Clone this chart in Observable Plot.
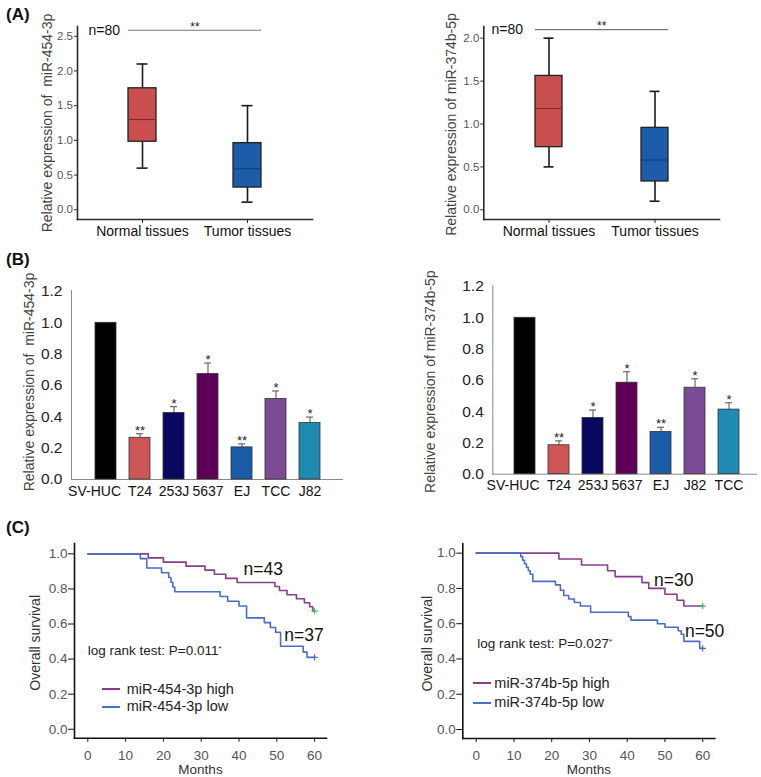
<!DOCTYPE html>
<html><head><meta charset="utf-8">
<script src="https://cdn.jsdelivr.net/npm/d3@7"></script>
<script src="https://cdn.jsdelivr.net/npm/@observablehq/plot@0.6"></script>
<style>
body{margin:0;background:#fff;}
#fig{position:relative;width:761px;height:777px;overflow:hidden;font-family:Arial,"Liberation Sans",Helvetica,sans-serif;background:#fff;}
.panel{position:absolute;}
.panel svg{overflow:visible;display:block;}
.plabel{position:absolute;font-weight:bold;font-size:17px;line-height:17px;color:#111;}
.boxp g[aria-label^="y-axis"] text{font-size:11.5px;fill:#555;}
.boxp g[aria-label^="x-axis"] text{font-size:14px;fill:#111;}
.barp g[aria-label^="y-axis"] text{font-size:15.5px;fill:#222;}
.kmp g[aria-label^="y-axis"] text{font-size:13.5px;fill:#555;}
.kmp g[aria-label^="x-axis"] text{font-size:13.5px;fill:#555;}
.boxp [aria-label="frame"], .boxp [aria-label="frame"] *, .boxp path.domain,
.kmp [aria-label="frame"], .kmp [aria-label="frame"] *, .kmp path.domain{stroke-width:1.6px;}
.leg{position:absolute;font-size:14.5px;color:#222;line-height:16px;white-space:nowrap;}
</style></head><body><div id="fig"></div>
<script>
// ---------------- DATA ----------------
const boxCategories = ["Normal tissues", "Tumor tissues"];
const boxColors = ["#c94f4f", "#1c5ca8"];
const boxMedianColors = ["#7a2a2a", "#103a6e"];
// miR-454-3p box plot (A left)
const b454Min = [0.60, 0.11];
const b454Q1 = [0.98, 0.32];
const b454Median = [1.30, 0.59];
const b454Q3 = [1.75, 0.96];
const b454Max = [2.10, 1.50];
const b454Ticks = [0, 0.5, 1.0, 1.5, 2.0, 2.5];
// miR-374b-5p box plot (A right)
const b374Min = [0.50, 0.10];
const b374Q1 = [0.73, 0.33];
const b374Median = [1.18, 0.58];
const b374Q3 = [1.56, 0.955];
const b374Max = [2.00, 1.38];
const b374Ticks = [0, 0.5, 1.0, 1.5, 2.0];
const sampleLabel = "n=80";
const sigLabel = "**";

// Cell line bars (B)
const barColors = ["#000000", "#cd5555", "#08085e", "#5f0058", "#1b5ca6", "#7b4c95", "#1f8bb2"];
const cells454 = ["SV-HUC", "T24", "253J", "5637", "EJ", "TCC", "J82"];
const expr454 = [1.0, 0.266, 0.425, 0.673, 0.205, 0.514, 0.36];
const err454 = [0, 0.026, 0.04, 0.07, 0.022, 0.051, 0.038];
const sig454 = ["", "**", "*", "*", "**", "*", "*"];
const cells374 = ["SV-HUC", "T24", "253J", "5637", "EJ", "J82", "TCC"];
const expr374 = [1.0, 0.185, 0.36, 0.585, 0.27, 0.553, 0.413];
const err374 = [0, 0.028, 0.05, 0.07, 0.03, 0.057, 0.044];
const sig374 = ["", "**", "*", "*", "**", "*", "*"];
const barTicks = [0, 0.2, 0.4, 0.6, 0.8, 1.0, 1.2];

// Kaplan-Meier (C)
const kmHighColor = "#8a3c8e";
const kmLowColor = "#4a6ec2";
const km454HighMonths = [0, 16, 20, 26, 31, 33.5, 36.5, 39.5, 49.5, 50.7, 52.7, 55.2, 57.3, 58.7, 59.5, 60];
const km454HighSurv = [1, 0.977, 0.953, 0.930, 0.907, 0.884, 0.860, 0.837, 0.814, 0.791, 0.767, 0.744, 0.721, 0.698, 0.674, 0.674];
const km454LowMonths = [0, 13.9, 15.6, 19.5, 21.4, 22, 22.5, 23, 35, 37, 40, 42, 46.7, 48.3, 49.7, 51, 57, 58, 60];
const km454LowSurv = [1, 0.973, 0.919, 0.892, 0.865, 0.838, 0.811, 0.784, 0.757, 0.730, 0.703, 0.635, 0.608, 0.58, 0.553, 0.473, 0.44, 0.41, 0.41];
const km374HighMonths = [0, 21.9, 27.9, 34.8, 36.8, 43.9, 45.7, 50, 53.2, 55, 60];
const km374HighSurv = [1, 0.967, 0.933, 0.9, 0.867, 0.833, 0.8, 0.767, 0.733, 0.7, 0.7];
const km374LowMonths = [0, 11.8, 12.3, 12.8, 13.3, 13.8, 14.3, 15, 21, 22.3, 23.2, 24.5, 26, 27.6, 30.3, 40.3, 41, 48, 50, 53.5, 54.3, 55, 59.2, 60];
const km374LowSurv = [1, 0.98, 0.96, 0.94, 0.92, 0.90, 0.88, 0.84, 0.82, 0.79, 0.76, 0.74, 0.72, 0.70, 0.665, 0.64, 0.62, 0.60, 0.58, 0.56, 0.54, 0.50, 0.46, 0.46];
const kmMonthTicks = [0, 10, 20, 30, 40, 50, 60];
const kmSurvTicks = [0, 0.2, 0.4, 0.6, 0.8, 1.0];
const km454Notes = ["n=43", "n=37"];
const km454NoteMonths = [46.4, 57.2];
const km454NoteSurv = [0.909, 0.534];
const km374Notes = ["n=30", "n=50"];
const km374NoteMonths = [52.3, 60.5];
const km374NoteSurv = [0.845, 0.558];
const logRank454 = "log rank test: P=0.011";
const logRank374 = "log rank test: P=0.027";

// ---------------- DRAWING ----------------
const FONT = 'Arial, "Liberation Sans", Helvetica, sans-serif';
const fig = document.getElementById("fig");
function place(cls, left, top, node) {
  const d = document.createElement("div");
  d.className = "panel " + cls;
  d.style.left = left + "px"; d.style.top = top + "px";
  d.appendChild(node); fig.appendChild(d); return d;
}
const fmt1 = d => d.toFixed(1);

function boxPanel(o) {
  const rows = boxCategories.map((c, i) => ({cat: c, min: o.mins[i], q1: o.q1[i], med: o.med[i], q3: o.q3[i], max: o.maxs[i], fill: boxColors[i], ms: boxMedianColors[i]}));
  const sig = [{a: boxCategories[0], b: boxCategories[1], y: o.sigY}];
  const W = "#1a1a1a";
  return Plot.plot({
    width: o.width, height: o.height,
    marginLeft: o.mL, marginRight: o.mR, marginTop: o.mT, marginBottom: o.mB,
    style: {fontFamily: FONT, background: "transparent", color: "#2a2a2a", overflow: "visible"},
    x: {type: "band", domain: boxCategories, paddingInner: o.pi, paddingOuter: o.po, tickSize: 4, tickPadding: 3, line: true, label: null},
    y: {domain: o.yDomain, ticks: o.ticks, tickFormat: fmt1, tickSize: 3, tickPadding: 1.5, line: true, label: null},
    color: {type: "identity"},
    marks: [
      Plot.ruleX(rows, {x: "cat", y1: "q3", y2: "max", stroke: W, strokeWidth: 1.6}),
      Plot.ruleX(rows, {x: "cat", y1: "min", y2: "q1", stroke: W, strokeWidth: 1.6}),
      Plot.tickY(rows, {x: "cat", y: "max", stroke: W, strokeWidth: 1.6, insetLeft: 8.5, insetRight: 8.5}),
      Plot.tickY(rows, {x: "cat", y: "min", stroke: W, strokeWidth: 1.6, insetLeft: 8.5, insetRight: 8.5}),
      Plot.barY(rows, {x: "cat", y1: "q1", y2: "q3", fill: "fill", stroke: "#222", strokeWidth: 1.3}),
      Plot.tickY(rows, {x: "cat", y: "med", stroke: "ms", strokeWidth: 1}),
      Plot.ruleY(sig, {x1: "a", x2: "b", y: "y", stroke: "#777", strokeWidth: 1.2}),
      Plot.text(sig, {y: "y", text: () => sigLabel, textAnchor: "middle", lineAnchor: "middle", dy: -3, fontSize: 12, fill: "#222"}),
      Plot.text(sig, {y: "y", text: () => sampleLabel, frameAnchor: "left", textAnchor: "start", lineAnchor: "middle", dx: o.nDx, fontSize: 14, fill: "#111"}),
      Plot.text([o.title], {text: d => d, frameAnchor: "left", textAnchor: "middle", lineAnchor: "middle", rotate: -90, dx: o.tDx, dy: o.tDy, fontSize: 14, fill: "#444"})
    ]
  });
}

function barPanel(o) {
  const rows = o.cells.map((c, i) => ({cell: c, v: o.expr[i], top: o.expr[i] + o.err[i], err: o.err[i], sig: o.sig[i], fill: barColors[i]}));
  const errRows = rows.filter(d => d.err > 0);
  return Plot.plot({
    width: o.width, height: o.height,
    marginLeft: o.mL, marginRight: o.mR, marginTop: o.mT, marginBottom: o.mB,
    style: {fontFamily: FONT, background: "transparent", color: "#8a8a8a", overflow: "visible"},
    x: {type: "band", domain: o.cells, paddingInner: 0.387, paddingOuter: o.po, align: o.align, tickSize: 0, tickFormat: () => "", line: true, label: null},
    y: {domain: o.yDomain, ticks: barTicks, tickFormat: fmt1, tickSize: 0, tickPadding: 9, line: true, label: null},
    color: {type: "identity"},
    marks: [
      Plot.ruleX(errRows, {x: "cell", y1: "v", y2: "top", stroke: "#6a6a6a", strokeWidth: 1.2}),
      Plot.tickY(errRows, {x: "cell", y: "top", stroke: "#6a6a6a", strokeWidth: 1.2, insetLeft: 7, insetRight: 7}),
      Plot.barY(rows, {x: "cell", y: "v", fill: "fill", stroke: "#333", strokeWidth: 0.8}),
      Plot.text(errRows, {x: "cell", y: "top", text: "sig", textAnchor: "middle", lineAnchor: "middle", dy: -3, fontSize: 13, fill: "#222"}),
      // category labels (first one is right-aligned so it doesn't collide)
      Plot.text(rows.slice(0, 1), {x: "cell", text: "cell", frameAnchor: "bottom", textAnchor: "end", lineAnchor: "top", dx: o.firstDx, dy: o.labDy, fontSize: 14, fill: "#111"}),
      Plot.text(rows.slice(1), {x: "cell", text: "cell", frameAnchor: "bottom", textAnchor: "middle", lineAnchor: "top", dy: o.labDy, fontSize: 14, fill: "#111"}),
      Plot.text([o.title], {text: d => d, frameAnchor: "left", textAnchor: "middle", lineAnchor: "middle", rotate: -90, dx: o.tDx, dy: o.tDy, fontSize: 14, fill: "#444"})
    ]
  });
}

function kmPanel(o) {
  const high = o.hT.map((t, i) => ({t, s: o.hS[i]}));
  const low = o.lT.map((t, i) => ({t, s: o.lS[i]}));
  const notes = o.notes.map((n, i) => ({n, t: o.nT[i], s: o.nS[i]}));
  const ends = [{t: o.hT[o.hT.length - 1], s: o.hS[o.hS.length - 1], c: "#3fbf5f"}, {t: o.lT[o.lT.length - 1], s: o.lS[o.lS.length - 1], c: kmLowColor}];
  return Plot.plot({
    width: o.width, height: o.height,
    marginLeft: o.mL, marginRight: o.mR, marginTop: o.mT, marginBottom: o.mB,
    style: {fontFamily: FONT, background: "transparent", color: "#111", overflow: "visible"},
    x: {domain: o.xDomain, ticks: kmMonthTicks, tickSize: 4, tickPadding: 8, line: true, label: null},
    y: {domain: o.yDomain, ticks: kmSurvTicks, tickFormat: fmt1, tickSize: 6, tickPadding: 1, line: true, label: null},
    color: {type: "identity"},
    marks: [
      Plot.line(high, {x: "t", y: "s", curve: "step-after", stroke: kmHighColor, strokeWidth: 1.6}),
      Plot.line(low, {x: "t", y: "s", curve: "step-after", stroke: kmLowColor, strokeWidth: 1.6}),
      Plot.dot(ends, {x: "t", y: "s", symbol: "plus", r: 2.2, stroke: "c", strokeWidth: 1.2}),
      Plot.text(notes, {x: "t", y: "s", text: "n", textAnchor: "middle", lineAnchor: "middle", fontSize: 17.5, fill: "#111"}),
      Plot.text([o.logRank], {x: () => o.lrT, y: () => o.lrS, text: d => d, textAnchor: "start", lineAnchor: "middle", fontSize: 13.5, fill: "#222"}),
      Plot.text(["Overall survival"], {text: d => d, frameAnchor: "left", textAnchor: "middle", lineAnchor: "middle", rotate: -90, dx: o.tDx, dy: o.tDy, fontSize: 14, fill: "#333"}),
      Plot.text(["Months"], {text: d => d, frameAnchor: "bottom", textAnchor: "middle", lineAnchor: "middle", dy: 31.5, fontSize: 13.5, fill: "#333"})
    ]
  });
}

// Panel A
place("boxp", 0, 0, boxPanel({
  mins: b454Min, q1: b454Q1, med: b454Median, q3: b454Q3, maxs: b454Max,
  yDomain: [-0.14, 2.64], ticks: b454Ticks, sigY: 2.586,
  width: 380, height: 250, mL: 77, mR: 68, mT: 26, mB: 31, pi: 0.734, po: 0.483,
  nDx: 11, title: "Relative expression of\u00a0 miR-454-3p", tDx: -30.3, tDy: 0
}));
place("boxp", 380, 0, boxPanel({
  mins: b374Min, q1: b374Q1, med: b374Median, q3: b374Q3, maxs: b374Max,
  yDomain: [-0.113, 2.136], ticks: b374Ticks, sigY: 2.10,
  width: 381, height: 250, mL: 103.3, mR: 42, mT: 26, mB: 31, pi: 0.746, po: 0.48,
  nDx: 7.7, title: "Relative expression of miR-374b-5p", tDx: -32.3, tDy: 1.5
}));
// Panel B
place("barp", 0, 250, barPanel({
  cells: cells454, expr: expr454, err: err454, sig: sig454,
  yDomain: [0, 1.206], width: 380, height: 250, mL: 71, mR: 38, mT: 40, mB: 21, po: 0.593, align: 0.525,
  firstDx: 15, labDy: 7,
  title: "Relative expression of\u00a0 miR-454-3p", tDx: -42, tDy: -3
}));
place("barp", 380, 250, barPanel({
  cells: cells374, expr: expr374, err: err374, sig: sig374,
  yDomain: [0, 1.2065], width: 381, height: 250, mL: 112.3, mR: 5, mT: 35, mB: 26.3, po: 0.4875, align: 0.566,
  firstDx: 14.5, labDy: 6.3,
  title: "Relative expression of miR-374b-5p", tDx: -62.3, tDy: 1.8
}));
// Panel C
place("kmp", 0, 520, kmPanel({
  hT: km454HighMonths, hS: km454HighSurv, lT: km454LowMonths, lS: km454LowSurv,
  notes: km454Notes, nT: km454NoteMonths, nS: km454NoteSurv,
  logRank: logRank454, lrT: 0, lrS: 0.449,
  xDomain: [-3.52, 63.15], yDomain: [-0.051, 1.059],
  width: 380, height: 257, mL: 74, mR: 54, mT: 23, mB: 39.3, tDx: -39, tDy: 2
}));
place("kmp", 380, 520, kmPanel({
  hT: km374HighMonths, hS: km374HighSurv, lT: km374LowMonths, lS: km374LowSurv,
  notes: km374Notes, nT: km374NoteMonths, nS: km374NoteSurv,
  logRank: logRank374, lrT: 0.26, lrS: 0.486,
  xDomain: [-3.55, 63.2], yDomain: [-0.051, 1.053],
  width: 381, height: 257, mL: 82.3, mR: 46.7, mT: 23.3, mB: 39, tDx: -35.6, tDy: 2.6
}));

// superscript asterisk after the log-rank P values
fig.querySelectorAll("text").forEach(t => {
  if (t.textContent.startsWith("log rank test")) {
    const ts = document.createElementNS("http://www.w3.org/2000/svg", "tspan");
    ts.setAttribute("dy", "-0.5em"); ts.setAttribute("font-size", "8"); ts.textContent = "*";
    t.appendChild(ts);
  }
});

// panel labels
[["(A)", 6, 6], ["(B)", 6, 251], ["(C)", 6, 519]].forEach(([s, x, y]) => {
  const d = document.createElement("div"); d.className = "plabel"; d.textContent = s;
  d.style.left = x + "px"; d.style.top = y + "px"; fig.appendChild(d);
});
// legends
const legendItems = [
  {text: "miR-454-3p high", color: kmHighColor, x1: 101.7, x2: 120, tx: 126.7, y: 689},
  {text: "miR-454-3p low", color: kmLowColor, x1: 101.7, x2: 120, tx: 126.7, y: 706.7},
  {text: "miR-374b-5p high", color: kmHighColor, x1: 472.7, x2: 491, tx: 494.3, y: 683.3},
  {text: "miR-374b-5p low", color: kmLowColor, x1: 472.7, x2: 491, tx: 494.3, y: 702.7}
];
legendItems.forEach(it => {
  const sw = document.createElement("div");
  sw.style.cssText = `position:absolute;left:${it.x1}px;top:${it.y - 1}px;width:${it.x2 - it.x1}px;height:2px;background:${it.color};`;
  fig.appendChild(sw);
  const tx = document.createElement("div"); tx.className = "leg"; tx.textContent = it.text;
  tx.style.left = it.tx + "px"; tx.style.top = (it.y - 8.5) + "px";
  fig.appendChild(tx);
});
</script></body></html>
